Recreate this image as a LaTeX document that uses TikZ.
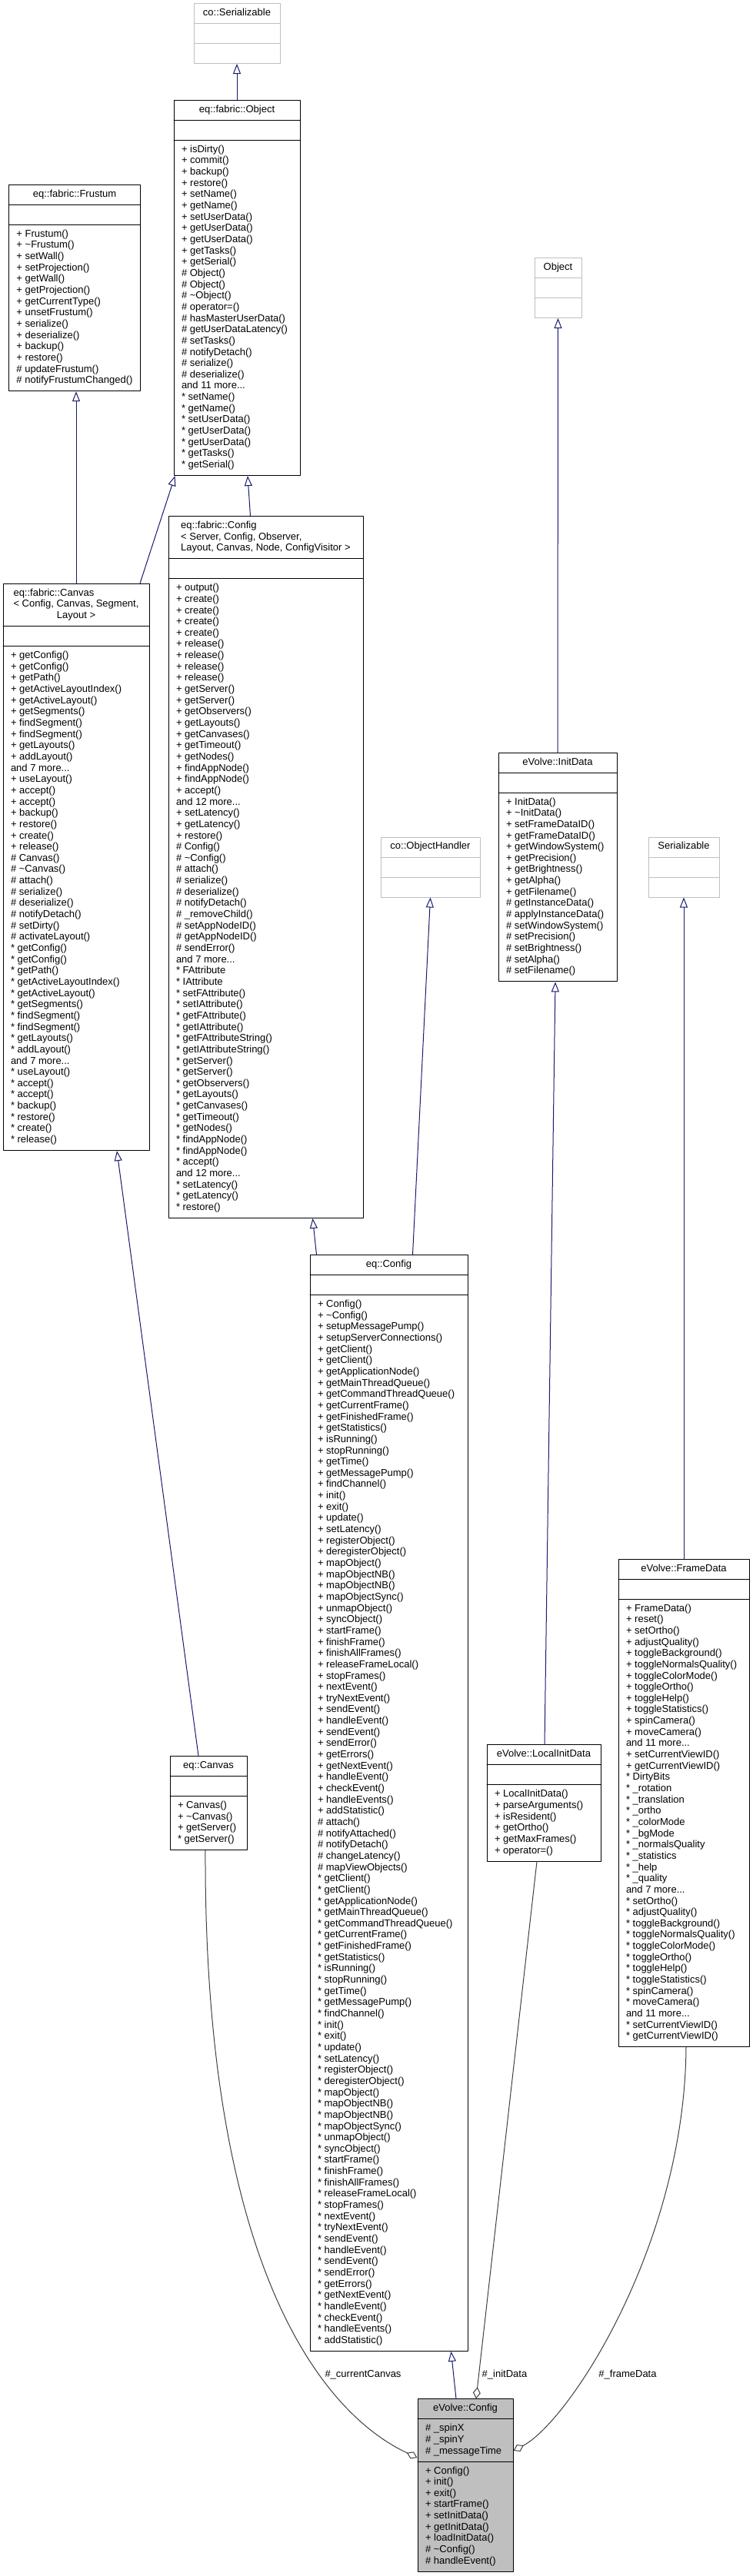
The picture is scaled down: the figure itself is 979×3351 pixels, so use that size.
\documentclass[tikz,border=0pt]{standalone}
\usepackage{fontspec}
\setmainfont{Liberation Sans}
\usetikzlibrary{shapes.multipart,arrows.meta}
\definecolor{xanhdam}{HTML}{191970}
\definecolor{xamdam}{HTML}{404040}
\definecolor{xamnhat}{HTML}{BFBFBF}
\newcommand{\ngang}{\textasciitilde}
\newcommand{\dsach}[1]{\begin{tabular}{@{}l@{}}#1\end{tabular}}
\begin{document}
\begin{tikzpicture}[x=1pt,y=-1pt,font=\fontsize{13}{14.65}\selectfont,line join=round,line cap=round,
	hop/.style={draw=black,fill=white,line width=1pt,rectangle split,rectangle split parts=3,
		rectangle split part align={center,left,left},inner xsep=10pt,inner ysep=5.175pt},
	hopxam/.style={hop,draw=xamnhat},
	hopchinh/.style={hop,fill=xamnhat},
	kethua/.style={xanhdam,line width=1pt,-{Triangle[open,length=13pt,width=10pt]}},
	thanhphan/.style={xamdam,line width=1pt,-{Diamond[open,length=15pt,width=10pt]}},
	nhan/.style={inner sep=1pt}]
	\path[use as bounding box,fill=white] (0,0) rectangle (979,3351);
	%%%Hàng trên cùng
	\node[hopxam,minimum width=112] (cosr) at (308,43.5) {\strut co::Serializable\nodepart{second}\strut\nodepart{third}\strut};
	%%%Hàng 1
	\node[hop,minimum width=164] (fobj) at (308,374.5) {\strut eq::fabric::Object\nodepart{second}\strut\nodepart{third}\dsach{+ isDirty()\\+ commit()\\+ backup()\\+ restore()\\+ setName()\\+ getName()\\+ setUserData()\\+ getUserData()\\+ getUserData()\\+ getTasks()\\+ getSerial()\\\# Object()\\\# Object()\\\# \ngang Object()\\\# operator=()\\\# hasMasterUserData()\\\# getUserDataLatency()\\\# setTasks()\\\# notifyDetach()\\\# serialize()\\\# deserialize()\\and 11 more...\\{*} setName()\\{*} getName()\\{*} setUserData()\\{*} getUserData()\\{*} getUserData()\\{*} getTasks()\\{*} getSerial()}};
	\node[hop,minimum width=170] (frus) at (97,374.5) {\strut eq::fabric::Frustum\nodepart{second}\strut\nodepart{third}\dsach{+ Frustum()\\+ \ngang Frustum()\\+ setWall()\\+ setProjection()\\+ getWall()\\+ getProjection()\\+ getCurrentType()\\+ unsetFrustum()\\+ serialize()\\+ deserialize()\\+ backup()\\+ restore()\\\# updateFrustum()\\\# notifyFrustumChanged()}};
	\node[hopxam,minimum width=61] (frobj) at (725.5,374.5) {\strut Object\nodepart{second}\strut\nodepart{third}\strut};
	%%%Hàng 2
	\node[hop,minimum width=190] (fcan) at (99,1128) {\begin{tabular}{@{}l@{}}eq::fabric::Canvas\\< Config, Canvas, Segment,\\\multicolumn{1}{@{}c@{}}{Layout >}\end{tabular}\nodepart{second}\strut\nodepart{third}\dsach{+ getConfig()\\+ getConfig()\\+ getPath()\\+ getActiveLayoutIndex()\\+ getActiveLayout()\\+ getSegments()\\+ findSegment()\\+ findSegment()\\+ getLayouts()\\+ addLayout()\\and 7 more...\\+ useLayout()\\+ accept()\\+ accept()\\+ backup()\\+ restore()\\+ create()\\+ release()\\\# Canvas()\\\# \ngang Canvas()\\\# attach()\\\# serialize()\\\# deserialize()\\\# notifyDetach()\\\# setDirty()\\\# activateLayout()\\{*} getConfig()\\{*} getConfig()\\{*} getPath()\\{*} getActiveLayoutIndex()\\{*} getActiveLayout()\\{*} getSegments()\\{*} findSegment()\\{*} findSegment()\\{*} getLayouts()\\{*} addLayout()\\and 7 more...\\{*} useLayout()\\{*} accept()\\{*} accept()\\{*} backup()\\{*} restore()\\{*} create()\\{*} release()}};
	\node[hop,minimum width=253] (fcfg) at (345.5,1128) {\begin{tabular}{@{}l@{}}eq::fabric::Config\\< Server, Config, Observer,\\ Layout, Canvas, Node, ConfigVisitor >\end{tabular}\nodepart{second}\strut\nodepart{third}\dsach{+ output()\\+ create()\\+ create()\\+ create()\\+ create()\\+ release()\\+ release()\\+ release()\\+ release()\\+ getServer()\\+ getServer()\\+ getObservers()\\+ getLayouts()\\+ getCanvases()\\+ getTimeout()\\+ getNodes()\\+ findAppNode()\\+ findAppNode()\\+ accept()\\and 12 more...\\+ setLatency()\\+ getLatency()\\+ restore()\\\# Config()\\\# \ngang Config()\\\# attach()\\\# serialize()\\\# deserialize()\\\# notifyDetach()\\\# \_removeChild()\\\# setAppNodeID()\\\# getAppNodeID()\\\# sendError()\\and 7 more...\\{*} FAttribute\\{*} IAttribute\\{*} setFAttribute()\\{*} setIAttribute()\\{*} getFAttribute()\\{*} getIAttribute()\\{*} getFAttributeString()\\{*} getIAttributeString()\\{*} getServer()\\{*} getServer()\\{*} getObservers()\\{*} getLayouts()\\{*} getCanvases()\\{*} getTimeout()\\{*} getNodes()\\{*} findAppNode()\\{*} findAppNode()\\{*} accept()\\and 12 more...\\{*} setLatency()\\{*} getLatency()\\{*} restore()}};
	\node[hopxam,minimum width=129] (ohnd) at (559.5,1128) {\strut co::ObjectHandler\nodepart{second}\strut\nodepart{third}\strut};
	\node[hop,minimum width=154] (initd) at (725,1128) {\strut eVolve::InitData\nodepart{second}\strut\nodepart{third}\dsach{+ InitData()\\+ \ngang InitData()\\+ setFrameDataID()\\+ getFrameDataID()\\+ getWindowSystem()\\+ getPrecision()\\+ getBrightness()\\+ getAlpha()\\+ getFilename()\\\# getInstanceData()\\\# applyInstanceData()\\\# setWindowSystem()\\\# setPrecision()\\\# setBrightness()\\\# setAlpha()\\\# setFilename()}};
	\node[hopxam,minimum width=92] (ser) at (889,1128) {\strut Serializable\nodepart{second}\strut\nodepart{third}\strut};
	%%%Hàng 3
	\node[hop,minimum width=100] (eqcan) at (271,2345.5) {\strut eq::Canvas\nodepart{second}\strut\nodepart{third}\dsach{+ Canvas()\\+ \ngang Canvas()\\+ getServer()\\{*} getServer()}};
	\node[hop,minimum width=205] (eqcfg) at (505.5,2345.5) {\strut eq::Config\nodepart{second}\strut\nodepart{third}\dsach{+ Config()\\+ \ngang Config()\\+ setupMessagePump()\\+ setupServerConnections()\\+ getClient()\\+ getClient()\\+ getApplicationNode()\\+ getMainThreadQueue()\\+ getCommandThreadQueue()\\+ getCurrentFrame()\\+ getFinishedFrame()\\+ getStatistics()\\+ isRunning()\\+ stopRunning()\\+ getTime()\\+ getMessagePump()\\+ findChannel()\\+ init()\\+ exit()\\+ update()\\+ setLatency()\\+ registerObject()\\+ deregisterObject()\\+ mapObject()\\+ mapObjectNB()\\+ mapObjectNB()\\+ mapObjectSync()\\+ unmapObject()\\+ syncObject()\\+ startFrame()\\+ finishFrame()\\+ finishAllFrames()\\+ releaseFrameLocal()\\+ stopFrames()\\+ nextEvent()\\+ tryNextEvent()\\+ sendEvent()\\+ handleEvent()\\+ sendEvent()\\+ sendError()\\+ getErrors()\\+ getNextEvent()\\+ handleEvent()\\+ checkEvent()\\+ handleEvents()\\+ addStatistic()\\\# attach()\\\# notifyAttached()\\\# notifyDetach()\\\# changeLatency()\\\# mapViewObjects()\\{*} getClient()\\{*} getClient()\\{*} getApplicationNode()\\{*} getMainThreadQueue()\\{*} getCommandThreadQueue()\\{*} getCurrentFrame()\\{*} getFinishedFrame()\\{*} getStatistics()\\{*} isRunning()\\{*} stopRunning()\\{*} getTime()\\{*} getMessagePump()\\{*} findChannel()\\{*} init()\\{*} exit()\\{*} update()\\{*} setLatency()\\{*} registerObject()\\{*} deregisterObject()\\{*} mapObject()\\{*} mapObjectNB()\\{*} mapObjectNB()\\{*} mapObjectSync()\\{*} unmapObject()\\{*} syncObject()\\{*} startFrame()\\{*} finishFrame()\\{*} finishAllFrames()\\{*} releaseFrameLocal()\\{*} stopFrames()\\{*} nextEvent()\\{*} tryNextEvent()\\{*} sendEvent()\\{*} handleEvent()\\{*} sendEvent()\\{*} sendError()\\{*} getErrors()\\{*} getNextEvent()\\{*} handleEvent()\\{*} checkEvent()\\{*} handleEvents()\\{*} addStatistic()}};
	\node[hop,minimum width=148] (linit) at (707,2345.5) {\strut eVolve::LocalInitData\nodepart{second}\strut\nodepart{third}\dsach{+ LocalInitData()\\+ parseArguments()\\+ isResident()\\+ getOrtho()\\+ getMaxFrames()\\+ operator=()}};
	\node[hop,minimum width=170] (fdat) at (889,2345.5) {\strut eVolve::FrameData\nodepart{second}\strut\nodepart{third}\dsach{+ FrameData()\\+ reset()\\+ setOrtho()\\+ adjustQuality()\\+ toggleBackground()\\+ toggleNormalsQuality()\\+ toggleColorMode()\\+ toggleOrtho()\\+ toggleHelp()\\+ toggleStatistics()\\+ spinCamera()\\+ moveCamera()\\and 11 more...\\+ setCurrentViewID()\\+ getCurrentViewID()\\{*} DirtyBits\\{*} \_rotation\\{*} \_translation\\{*} \_ortho\\{*} \_colorMode\\{*} \_bgMode\\{*} \_normalsQuality\\{*} \_statistics\\{*} \_help\\{*} \_quality\\and 7 more...\\{*} setOrtho()\\{*} adjustQuality()\\{*} toggleBackground()\\{*} toggleNormalsQuality()\\{*} toggleColorMode()\\{*} toggleOrtho()\\{*} toggleHelp()\\{*} toggleStatistics()\\{*} spinCamera()\\{*} moveCamera()\\and 11 more...\\{*} setCurrentViewID()\\{*} getCurrentViewID()}};
	%%%Lớp chính
	\node[hopchinh,minimum width=124] (evc) at (605,3233) {\strut eVolve::Config\nodepart{second}\dsach{\# \_spinX\\\# \_spinY\\\# \_messageTime}\nodepart{third}\dsach{+ Config()\\+ init()\\+ exit()\\+ startFrame()\\+ setInitData()\\+ getInitData()\\+ loadInitData()\\\# \ngang Config()\\\# handleEvent()}};
	%%%Kế thừa
	\draw[kethua] (fobj.north) -- (cosr.south);
	\draw[kethua] (fcan.north) -- (fcan.north |- frus.south);
	\draw[kethua] ([xshift=83pt]fcan.north) -- ([xshift=2pt]fobj.south west);
	\draw[kethua] ([xshift=-20pt]fcfg.north) -- ([xshift=14pt]fobj.south);
	\draw[kethua] (initd.north) -- (frobj.south);
	\draw[kethua] (fdat.north) -- (ser.south);
	\draw[kethua] ([xshift=-13pt]eqcan.north) -- ([xshift=53pt]fcan.south);
	\draw[kethua] ([xshift=-94pt]eqcfg.north) -- ([xshift=61pt]fcfg.south);
	\draw[kethua] ([xshift=31pt]eqcfg.north) -- (ohnd.south);
	\draw[kethua] ([xshift=1pt]linit.north) -- ([xshift=-3pt]initd.south);
	\draw[kethua] ([xshift=-12pt]evc.north) -- ([xshift=81pt]eqcfg.south);
	%%%Thành phần
	\draw[thanhphan] ([xshift=-4pt]eqcan.south) .. controls (265,2950) and (420,3140) .. ([yshift=36pt]evc.west);
	\draw[thanhphan] ([xshift=-9pt]linit.south) -- ([xshift=14pt]evc.north);
	\draw[thanhphan] ([xshift=3pt]fdat.south) .. controls (890,2920) and (740,3150) .. ([yshift=45pt]evc.east);
	\node[nhan] (lcc) at (472,3089) {\#\_currentCanvas};
	\node[nhan] (lid) at (656,3089) {\#\_initData};
	\node[nhan] (lfd) at (816,3089) {\#\_frameData};
\end{tikzpicture}
\end{document}
